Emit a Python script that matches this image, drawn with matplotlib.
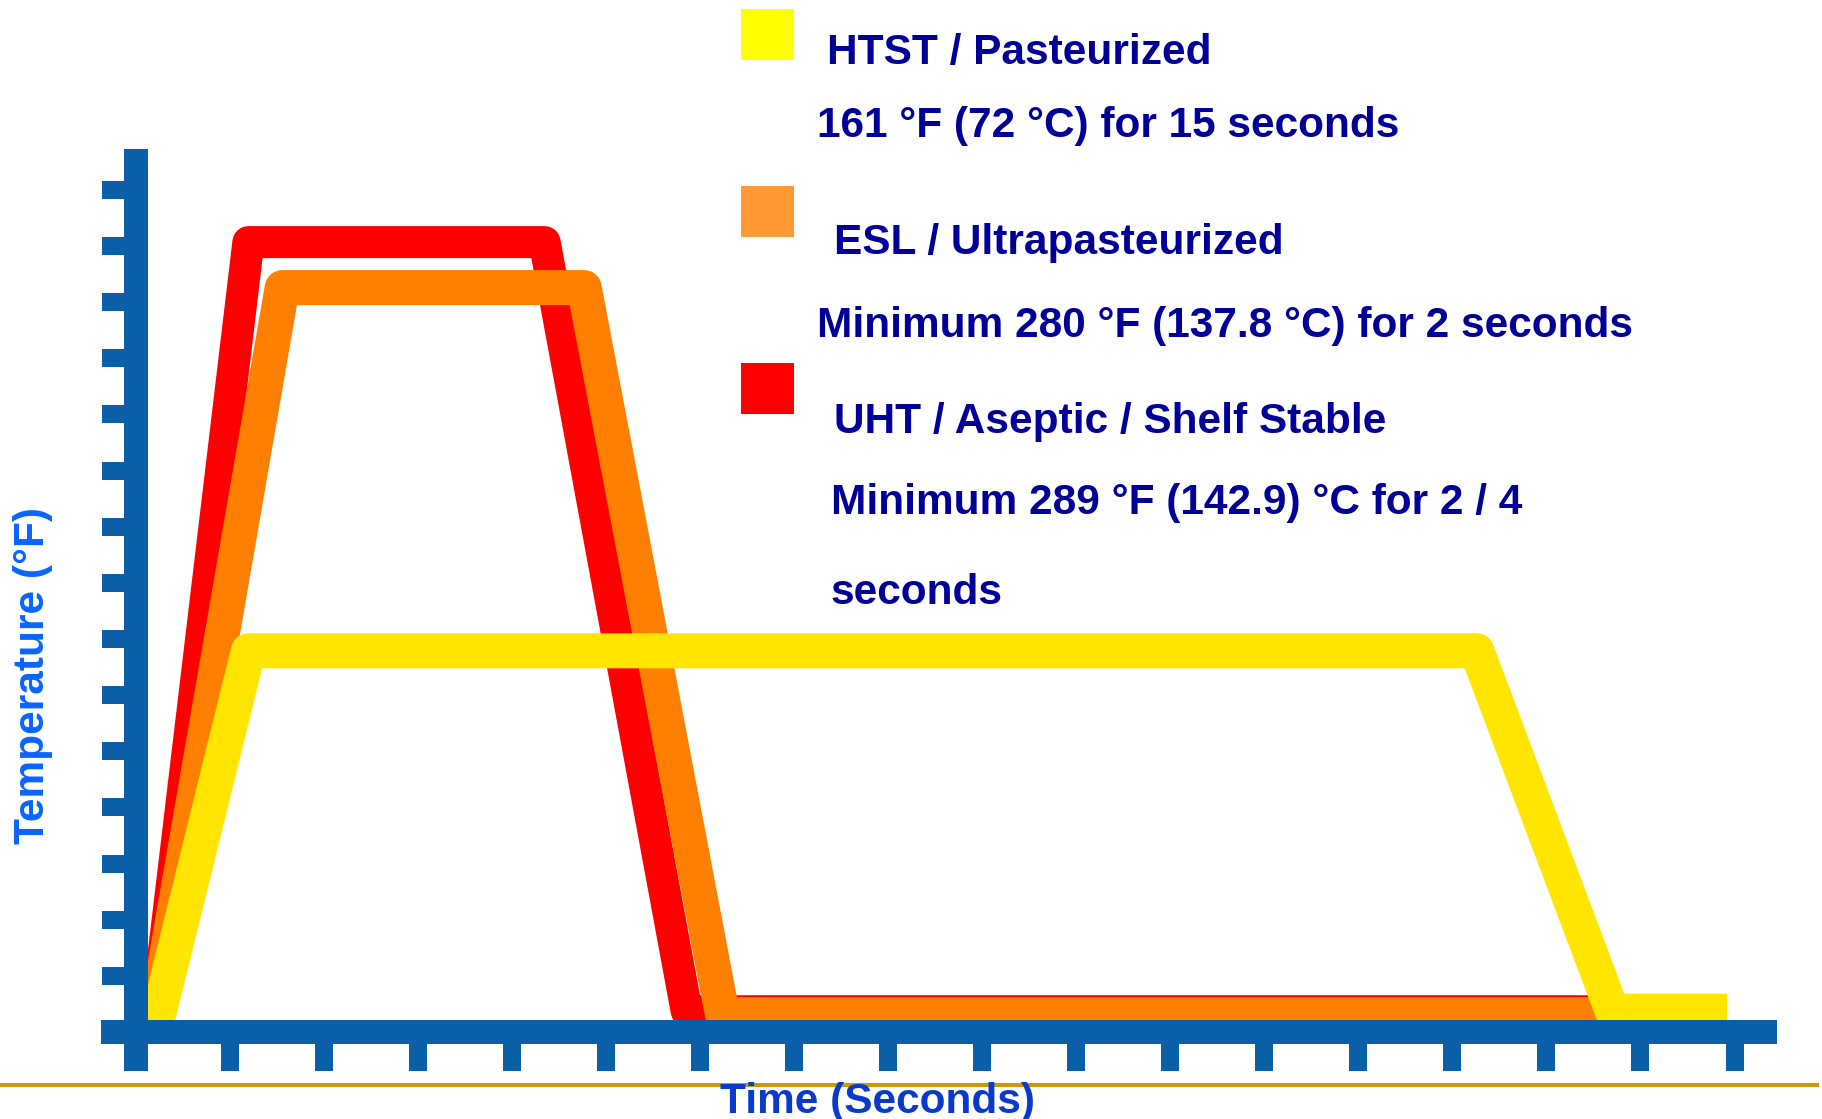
import matplotlib
matplotlib.use('Agg')
import matplotlib.pyplot as plt
from matplotlib.patches import Rectangle
from matplotlib.lines import Line2D

W, H = 1822, 1119

# time / temperature in axis-tick units (the chart has no numeric labels)
uht_time = [0.2, 1.2, 4.35, 5.86, 15.45]
uht_temp = [0.0, 14.07, 14.07, 0.37, 0.37]
esl_time = [0.19, 1.56, 4.77, 6.24, 15.55]
esl_temp = [0.0, 13.26, 13.26, 0.31, 0.31]
htst_time = [0.2, 1.2, 14.26, 15.7, 16.92]
htst_temp = [0.0, 6.79, 6.79, 0.37, 0.37]

x_ticks = list(range(1, 18))
y_ticks = list(range(1, 16))

legend_titles = ['HTST / Pasteurized', 'ESL / Ultrapasteurized', 'UHT / Aseptic / Shelf Stable']
legend_colors = ['#FFFF00', '#FF9933', '#FF0000']
legend_notes = ['161 °F (72 °C) for 15 seconds',
                'Minimum 280 °F (137.8 °C) for 2 seconds',
                'Minimum 289 °F (142.9) °C for 2 / 4',
                'seconds']

axis_blue = '#0A5FA8'
navy = '#000099'
px = 0.72  # points per pixel at dpi 100


def fx(p):
    return p / W


def fy(p):
    return 1 - p / H


fig = plt.figure(figsize=(W / 100, H / 100), dpi=100)
ax = fig.add_axes([0, 0, 1, 1])
ax.set_xlim(-135.5 / 94.06, (W - 135.5) / 94.06)
ax.set_ylim((1032 - H) / 56.14, 1032 / 56.14)
ax.axis('off')

ax.plot(uht_time, uht_temp, color='#FF0000', lw=32 * px, solid_joinstyle='round', solid_capstyle='butt', zorder=2)
ax.plot(esl_time, esl_temp, color='#FF8000', lw=35 * px, solid_joinstyle='round', solid_capstyle='butt', zorder=2.1)
ax.plot(htst_time, htst_temp, color='#FFE500', lw=35 * px, solid_joinstyle='round', solid_capstyle='butt', zorder=2.2)

# axes drawn as thick bars with stubby ticks
ax.plot([-0.37, 17.45], [0, 0], color=axis_blue, lw=24 * px, solid_capstyle='butt', zorder=4)
ax.plot([0, 0], [-0.69, 15.73], color=axis_blue, lw=24 * px, solid_capstyle='butt', zorder=4)
ax.vlines(x_ticks, -0.2, -0.695, color=axis_blue, lw=18 * px, capstyle='butt', zorder=4)
ax.hlines(y_ticks, -0.356, -0.1, color=axis_blue, lw=18 * px, capstyle='butt', zorder=4)

fig.add_artist(Line2D([0, fx(1817)], [fy(1085), fy(1085)], transform=fig.transFigure,
                      color='#CC9900', lw=4 * px))

font = dict(family='Liberation Sans', weight='bold', fontsize=30.5)

# legend squares
for top, c in zip([9, 186, 363], legend_colors):
    fig.patches.append(Rectangle((fx(741), fy(top + 51)), 53 / W, 51 / H,
                                 transform=fig.transFigure, color=c, lw=0))

title_pos = [(827, 64), (834, 254), (834, 433)]
for (x, y), t in zip(title_pos, legend_titles):
    fig.text(fx(x), fy(y), t, color=navy, va='baseline', ha='left', **font)

note_pos = [(817, 137), (817, 337), (831, 514), (831, 604)]
for (x, y), t in zip(note_pos, legend_notes):
    fig.text(fx(x), fy(y), t, color=navy, va='baseline', ha='left', **font)

fig.text(fx(877), fy(1113), 'Time (Seconds)', color='#0A3ACC', ha='center', va='baseline', **font)
fig.text(fx(33), fy(675), 'Temperature (°F)', color='#0A64FF', ha='center', va='center',
         rotation=90, **font)

fig.savefig('out.png', dpi=100, facecolor='white')
